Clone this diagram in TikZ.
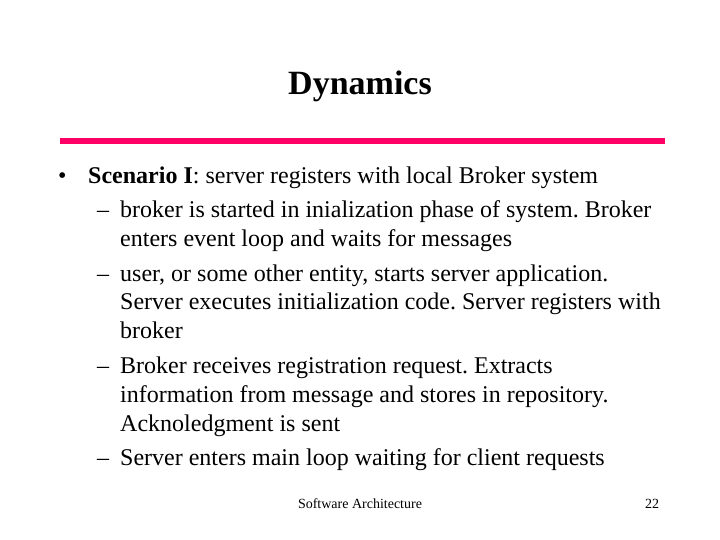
\documentclass[tikz,border=0pt]{standalone}
\usepackage{fontspec}
\setmainfont{Liberation Serif}
\frenchspacing
\definecolor{barred}{HTML}{FF0066}
\tikzset{
  line/.style={anchor=base west, inner sep=0pt, font=\fontsize{24}{28}\selectfont},
  foot/.style={inner sep=0pt, font=\fontsize{14}{16}\selectfont}
}
\begin{document}
\begin{tikzpicture}[x=1pt,y=-1pt]
  \useasboundingbox (0,0) rectangle (720,540);
  \node[inner sep=0pt, font=\fontsize{34}{38}\selectfont\bfseries] (title) at (360,86) {Dynamics};
  \fill[barred] (60,138) rectangle (665,144);

  \node[line] (b1) at (58,184) {\textbullet};
  \node[line] (l1) at (88,184) {\textbf{Scenario I}: server registers with local Broker system};
  \node[line] (d1) at (97,218) {--};
  \node[line] (l2) at (120,218) {broker is started in inialization phase of system. Broker};
  \node[line] (l3) at (120,247) {enters event loop and waits for messages};
  \node[line] (d2) at (97,281) {--};
  \node[line] (l4) at (120,281) {user, or some other entity, starts server application.};
  \node[line] (l5) at (120,309) {Server executes initialization code. Server registers with};
  \node[line] (l6) at (120,338) {broker};
  \node[line] (d3) at (97,373) {--};
  \node[line] (l7) at (120,373) {Broker receives registration request. Extracts};
  \node[line] (l8) at (120,402) {information from message and stores in repository.};
  \node[line] (l9) at (120,431) {Acknoledgment is sent};
  \node[line] (d4) at (97,465) {--};
  \node[line] (l10) at (120,465) {Server enters main loop waiting for client requests};

  \node[foot] (footer) at (360,504) {Software Architecture};
  \node[foot] (page) at (652,504) {22};
\end{tikzpicture}
\end{document}
